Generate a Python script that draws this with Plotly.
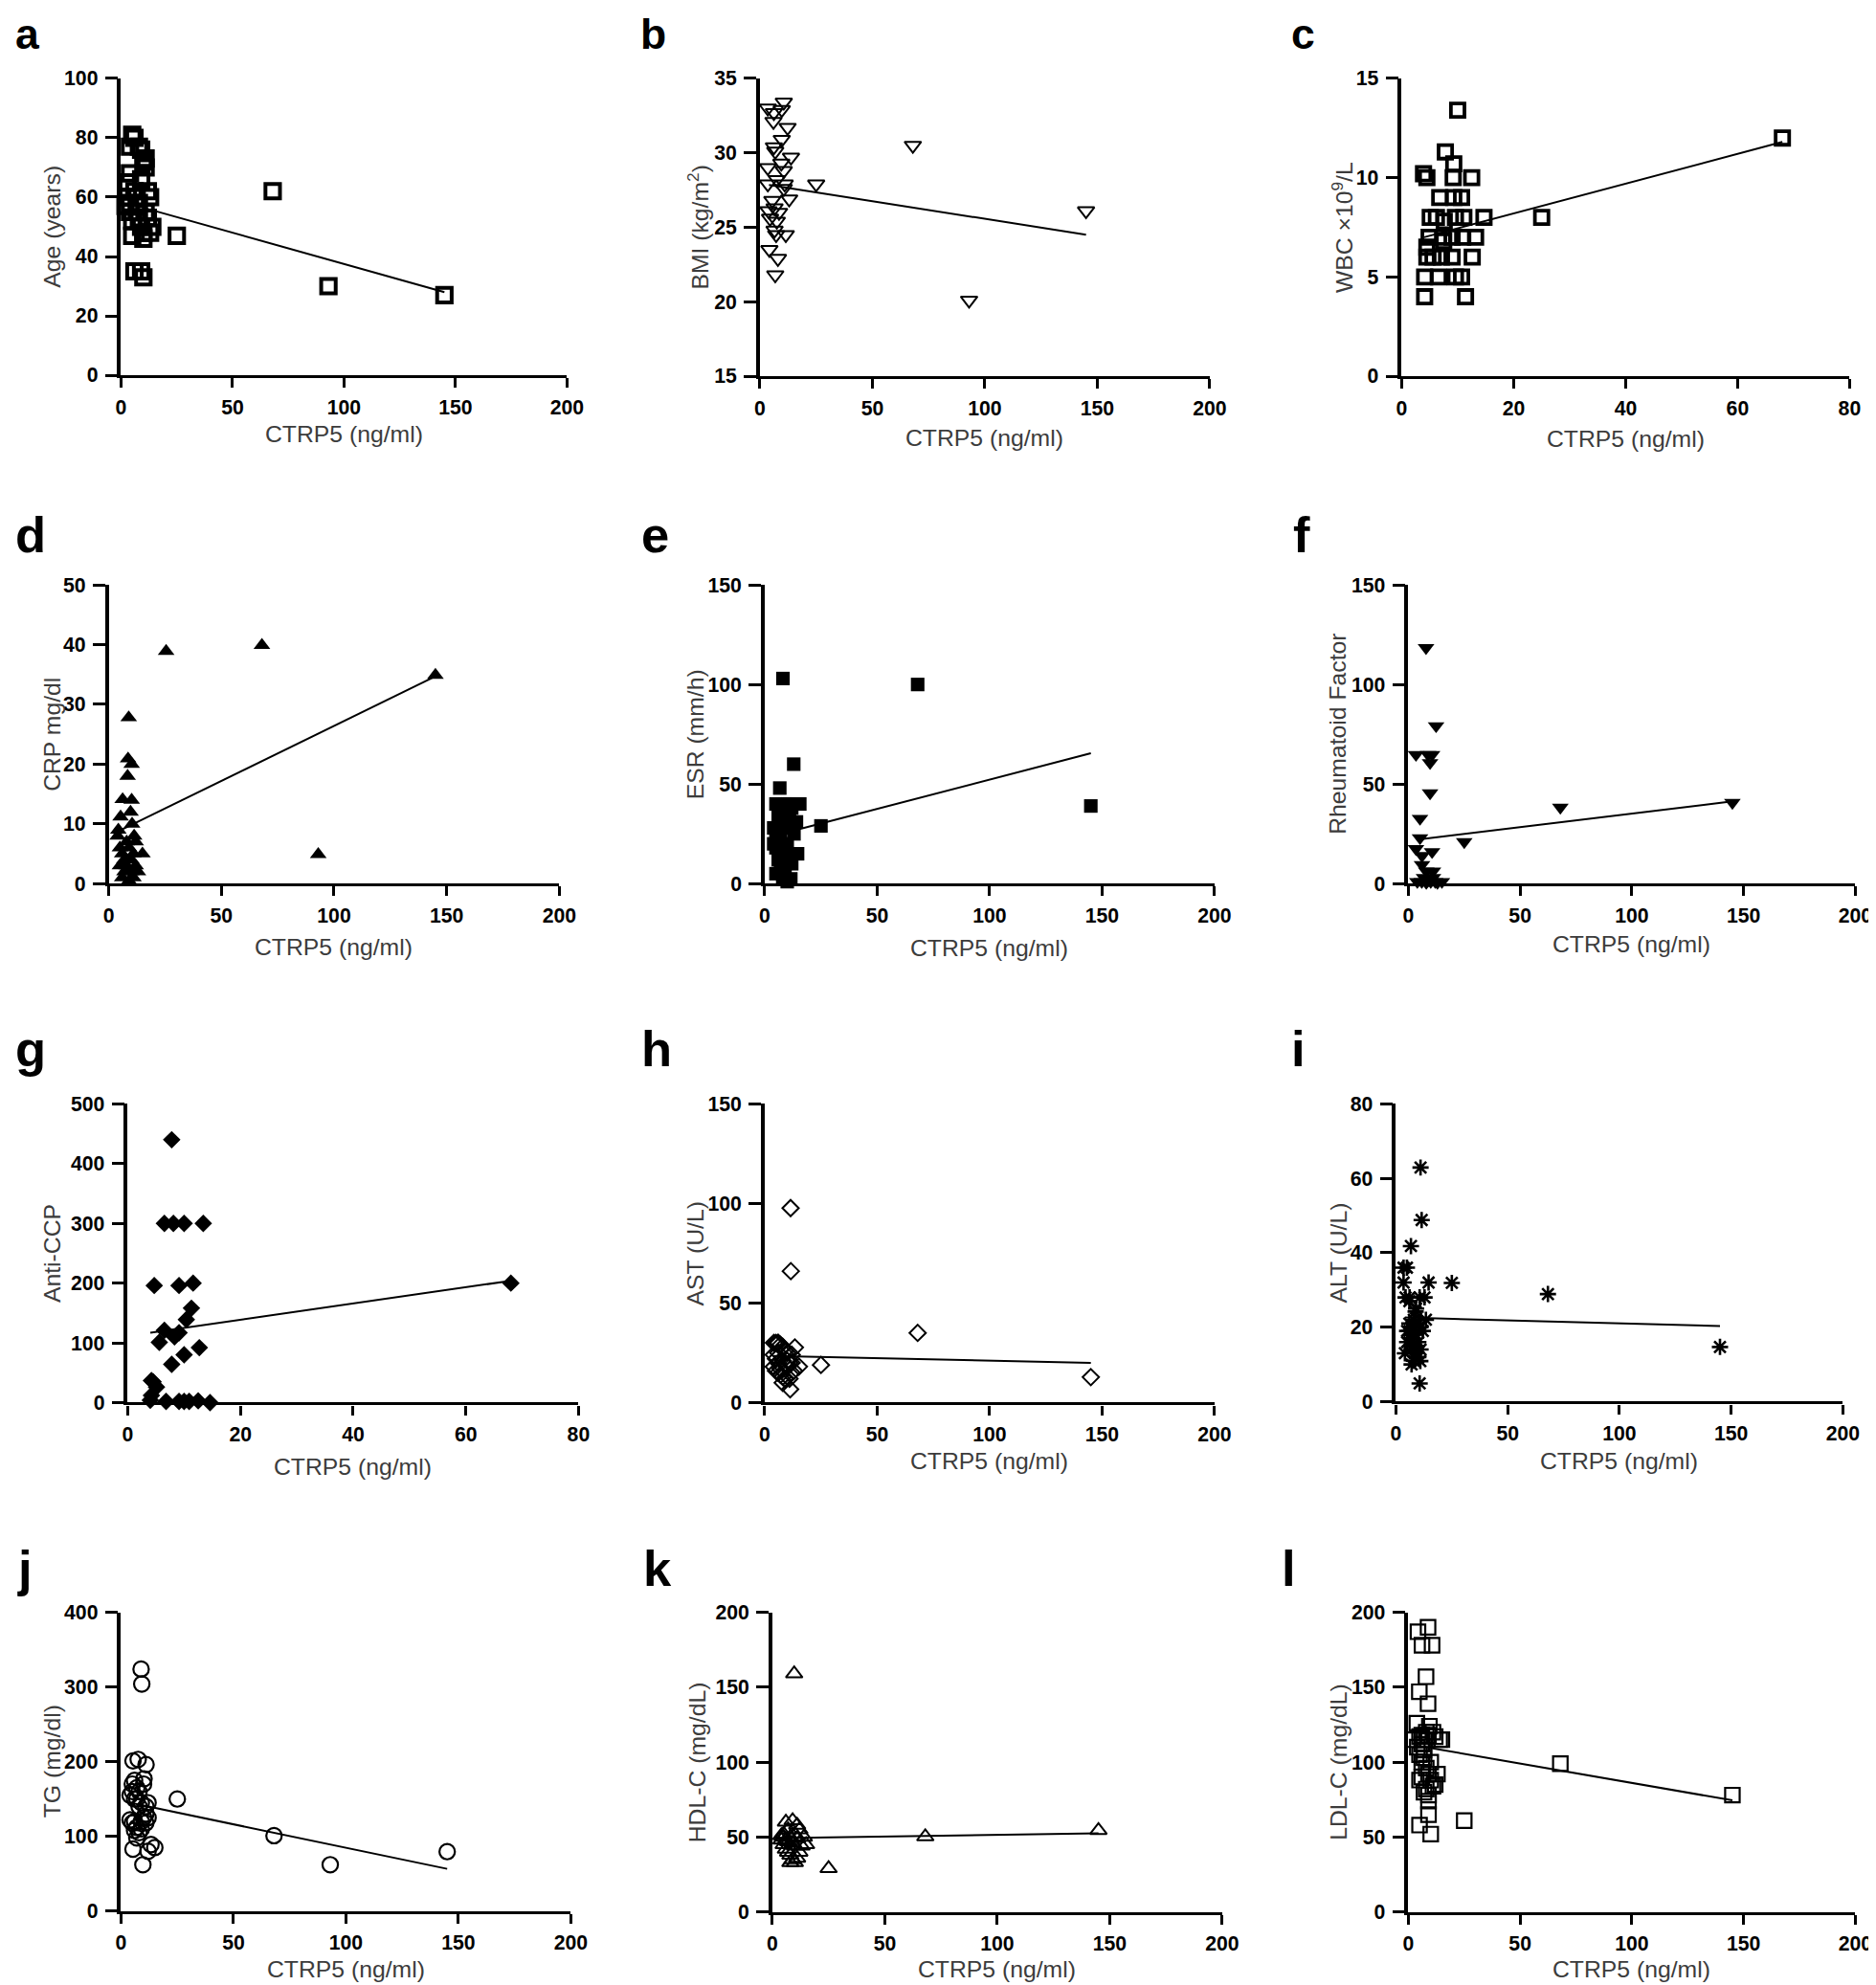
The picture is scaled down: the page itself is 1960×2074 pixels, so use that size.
import plotly.graph_objects as go

# ---------------- data ----------------
x_a = [5, 6, 4, 8, 9, 10, 11, 11, 9, 4, 3, 2, 4, 5, 5, 7, 8, 12, 13, 11, 12, 14, 13, 10, 10, 9, 6, 9, 10, 6, 7, 8, 3, 4, 25, 68, 93, 145]
y_a = [81, 80, 77, 77, 76, 72, 73, 70, 66, 68, 65, 57, 55, 52, 47, 60, 58, 62, 60, 55, 53, 50, 48, 46, 48, 50, 35, 35, 33, 62, 55, 52, 60, 58, 47, 62, 30, 27]
fit_a_x = [4, 145]
fit_a_y = [57.7, 28.0]

x_b = [3.5, 6.2, 6, 9.7, 10.6, 12.3, 9.7, 6.2, 6.8, 13.8, 9.5, 3.5, 10.6, 3.5, 7.5, 11, 10.6, 13, 5.5, 6.5, 3.8, 8.5, 4.5, 7.5, 6.5, 7.2, 11.5, 4.2, 8, 6.8, 25, 68, 93, 145]
y_b = [33.0, 32.7, 32.1, 32.9, 33.4, 31.7, 30.9, 30.4, 30.1, 29.7, 29.3, 29.0, 28.8, 27.9, 28.2, 27.9, 27.6, 26.9, 26.8, 26.3, 26.1, 26.0, 25.6, 25.4, 24.8, 24.5, 24.5, 23.5, 22.9, 21.8, 27.9, 30.5, 20.1, 26.1]
fit_b_x = [4, 145]
fit_b_y = [27.85, 24.5]

x_c = [10.0, 7.8, 3.9, 4.5, 9.3, 9.2, 12.5, 6.8, 9.3, 10.7, 5.1, 6.2, 9.6, 11.1, 14.7, 7.6, 4.9, 7.4, 9.0, 10.9, 13.2, 4.5, 7.5, 4.5, 5.6, 7.1, 9.0, 12.6, 4.1, 6.6, 9.6, 10.7, 4.1, 11.4, 25, 68]
y_c = [13.4, 11.3, 10.2, 10.0, 10.7, 10.0, 10.0, 9.0, 9.0, 9.0, 8, 8, 8, 8, 8, 7.8, 7, 7, 7, 7, 7, 6.5, 6.8, 6, 6, 6, 6, 6, 5, 5, 5, 5, 4, 4, 8, 12]
fit_c_x = [4, 68]
fit_c_y = [7.0, 11.8]

x_d = [8.9, 8.6, 10.2, 8.4, 6.2, 10.2, 5.3, 9.7, 10.4, 4.3, 11.3, 4.0, 15.0, 5, 6, 7, 8, 9, 10, 11, 12, 7, 6, 9, 8, 11, 12, 5, 13, 10, 25.5, 68, 93, 145]
y_d = [27.8, 20.9, 20.0, 18.0, 14.1, 14.0, 11.2, 12.0, 10.0, 9.0, 8, 8, 5, 6, 5, 4, 3, 6, 2, 1, 3, 2, 1, 0.5, 7, 5, 7, 3, 2, 4, 38.9, 39.9, 4.9, 34.9]
fit_d_x = [4, 145]
fit_d_y = [8.7, 34.7]

x_e = [8.1, 12.9, 6.7, 15.6, 14.1, 13, 14.6, 12, 11.6, 4, 5, 5, 6, 6, 7, 7, 8, 8, 9, 9, 10, 10, 11, 12, 6, 7, 5, 8, 9, 10, 11, 4, 12, 5, 7, 9, 11, 8, 25, 68, 145]
y_e = [103, 60, 48, 40, 31, 25, 15, 10, 2.4, 20, 18, 25, 30, 35, 38, 22, 15, 28, 32, 10, 40, 20, 35, 30, 12, 8, 5, 3, 5, 1, 15, 28, 38, 40, 40, 40, 40, 36, 29, 100, 39]
fit_e_x = [4, 145]
fit_e_y = [24.0, 65.5]

x_f = [7.9, 12.4, 3.4, 8.8, 10.6, 9.7, 9.7, 5.2, 5.2, 3.4, 6.1, 10.6, 6.1, 8, 11, 4, 6, 8, 9, 10, 12, 13, 15, 11, 7, 25, 68, 145]
y_f = [118.4, 79.2, 64.8, 64.8, 64.8, 60.7, 45.5, 32.7, 23, 17.5, 14, 16, 9.5, 6.3, 6.3, 1, 1, 0.5, 2, 1, 1, 0.5, 1, 3, 3, 21, 38.3, 40.7]
fit_f_x = [4, 145]
fit_f_y = [22.1, 41.3]

x_g = [7.8, 6.5, 8.1, 10.0, 13.4, 4.7, 9.1, 11.6, 11.3, 10.4, 6.5, 9.1, 8.3, 5.6, 12.7, 10.0, 7.8, 4.2, 4.5, 5.1, 4.2, 4.0, 6.8, 9.1, 10.0, 10.9, 12.5, 14.6, 68]
y_g = [440, 300, 300, 300, 300, 196, 196, 200, 158, 139, 121, 117, 110, 101, 92, 80, 64, 37, 35, 26, 12, 4, 2, 2, 2, 2, 3, 0, 200]
fit_g_x = [4, 68]
fit_g_y = [117, 204]

x_h = [11.5, 11.6, 11.3, 13.4, 15.2, 4.1, 5.9, 5, 6, 7, 8, 4, 9, 10, 12, 5, 6, 8, 9, 10, 4, 5, 6, 7, 8, 9, 11, 12, 13, 7, 10, 6, 8, 11, 12, 25, 68, 145]
y_h = [97.7, 66, 6.7, 27.7, 18.1, 30, 30, 30, 30, 29, 28, 24, 26, 25, 24, 22, 20, 21, 19, 18, 18, 16, 15, 14, 13, 12, 12, 15, 16, 17, 21, 25, 10, 20, 20, 18.9, 35, 12.8]
fit_h_x = [4, 145]
fit_h_y = [23.4, 20.0]

x_i = [11, 11.5, 6.7, 3.4, 4.9, 3.4, 14.6, 4.3, 6.1, 10.6, 12.8, 8.8, 13.4, 10.6, 10.9, 4, 5, 6, 6, 7, 7, 8, 8, 9, 9, 10, 10, 11, 11, 7, 8, 9, 6, 7, 12, 8, 10, 5, 25, 68, 145]
y_i = [62.9, 48.8, 41.8, 36, 36, 32, 32, 28, 28, 28, 28, 24.2, 22, 4.9, 10.9, 13, 16, 19, 21, 20, 17, 15, 22, 18, 14, 16, 12, 14, 20, 10, 11, 25, 27, 14, 19, 19, 21, 19, 31.9, 28.9, 14.7]
fit_i_x = [4, 145]
fit_i_y = [22.6, 20.3]

x_j = [8.9, 9.2, 5.3, 7.6, 11.1, 10.2, 5, 6, 7, 8, 10, 5, 4, 6, 9, 11, 7, 8, 12, 6, 5, 7, 9, 10, 11, 4, 6, 8, 7, 5.3, 9.7, 13.3, 15, 12, 9, 11, 12, 25, 68, 93, 145]
y_j = [324, 304, 201, 203, 196, 177, 170, 175, 165, 160, 170, 160, 155, 150, 145, 140, 150, 140, 125, 120, 118, 112, 120, 125, 118, 122, 108, 105, 98, 83, 62, 89, 85, 80, 110, 130, 145, 150, 101, 62, 79.5]
fit_j_x = [4, 145]
fit_j_y = [145, 56.5]

x_k = [9.7, 6, 9, 11, 12, 14, 15, 5, 7, 8, 10, 4, 5, 6, 7, 8, 9, 10, 11, 12, 13, 8, 6, 9, 7, 10, 11, 5, 4, 25, 68, 145]
y_k = [159, 60, 61, 58, 55, 50, 45, 52, 55, 50, 52, 48, 45, 42, 40, 38, 35, 33, 36, 40, 44, 33, 48, 46, 47, 44, 49, 50, 51, 29, 50.3, 54.5]
fit_k_x = [4, 145]
fit_k_y = [49.4, 52.5]

x_l = [8.8, 4.3, 6.1, 10.6, 7.9, 4.9, 8.8, 3.8, 9.4, 2, 5, 7, 9, 12, 14, 15, 5, 6, 7, 6, 5, 9, 10, 13, 12, 8, 7, 9, 11, 9, 9, 5, 10, 6, 7, 8, 4, 11, 10, 8, 6, 25, 68, 145]
y_l = [190, 187, 178, 178, 157, 147, 139, 126, 124, 115, 117, 115, 118, 117, 115, 115, 105, 100, 103, 90, 88, 92, 88, 92, 85, 82, 80, 78, 84, 74, 65, 58, 52, 112, 108, 96, 110, 120, 100, 120, 118, 61, 99, 78]
fit_l_x = [4, 145]
fit_l_y = [111, 74.5]

ticks_x200 = [0, 50, 100, 150, 200]
ticks_x80 = [0, 20, 40, 60, 80]
ticks_a = [0, 20, 40, 60, 80, 100]
ticks_b = [15, 20, 25, 30, 35]
ticks_c = [0, 5, 10, 15]
ticks_d = [0, 10, 20, 30, 40, 50]
ticks_e = [0, 50, 100, 150]
ticks_f = [0, 50, 100, 150]
ticks_g = [0, 100, 200, 300, 400, 500]
ticks_h = [0, 50, 100, 150]
ticks_i = [0, 20, 40, 60, 80]
ticks_j = [0, 100, 200, 300, 400]
ticks_k = [0, 50, 100, 150, 200]
ticks_l = [0, 50, 100, 150, 200]

x_title = "CTRP5 (ng/ml)"
y_titles = ["Age (years)", "BMI (kg/m<sup>2</sup>)", "WBC \u00d710<sup>9</sup>/L",
            "CRP mg/dl", "ESR (mm/h)", "Rheumatoid Factor",
            "Anti-CCP", "AST (U/L)", "ALT (U/L)",
            "TG (mg/dl)", "HDL-C (mg/dL)", "LDL-C (mg/dL)"]
letters = ["a", "b", "c", "d", "e", "f", "g", "h", "i", "j", "k", "l"]

# ---------------- layout / style ----------------
W, H = 1960, 2074
# mapping from target picture pixels to figure pixels (page offset / scale seen in the renders)
CX0, CSX = 12.25, 0.990
CY0, CSY = 20.1, 0.9885
K = 1.01  # size compensation for that scale
FONT = "Liberation Sans, Arial, Helvetica, sans-serif"


def fxp(xp):
    return (xp - CX0) / CSX


def fyp(yp):
    return (yp - CY0) / CSY


def px(xp):
    return fxp(xp) / W


def py(yp):
    return 1 - fyp(yp) / H


panels = [
    dict(x=x_a, y=y_a, fx=fit_a_x, fy=fit_a_y, xt=ticks_x200, yt=ticks_a, box=(125, 592, 82, 392),
         sym="square-open", size=15, lw=4, ytx=53, xty=453, let=(12, 52, 44)),
    dict(x=x_b, y=y_b, fx=fit_b_x, fy=fit_b_y, xt=ticks_x200, yt=ticks_b, box=(794, 1265, 82, 393),
         sym="triangle-down-open", size=15, lw=2, ytx=729, xty=457, let=(667, 52, 44)),
    dict(x=x_c, y=y_c, fx=fit_c_x, fy=fit_c_y, xt=ticks_x80, yt=ticks_c, box=(1466, 1935, 82, 393),
         sym="square-open", size=14, lw=3.8, ytx=1404, xty=458, let=(1348, 52, 44)),
    dict(x=x_d, y=y_d, fx=fit_d_x, fy=fit_d_y, xt=ticks_x200, yt=ticks_d, box=(112, 584, 611, 923),
         sym="triangle-up", size=15, lw=0, ytx=53, xty=989, let=(12, 578, 52)),
    dict(x=x_e, y=y_e, fx=fit_e_x, fy=fit_e_y, xt=ticks_x200, yt=ticks_e, box=(799, 1270, 611, 923),
         sym="square", size=14, lw=0, ytx=726, xty=990, let=(668, 578, 52)),
    dict(x=x_f, y=y_f, fx=fit_f_x, fy=fit_f_y, xt=ticks_x200, yt=ticks_f, box=(1473, 1941, 611, 923),
         sym="triangle-down", size=15, lw=0, ytx=1399, xty=986, let=(1350, 578, 52)),
    dict(x=x_g, y=y_g, fx=fit_g_x, fy=fit_g_y, xt=ticks_x80, yt=ticks_g, box=(132, 604, 1153, 1465),
         sym="diamond", size=14, lw=0, ytx=53, xty=1532, let=(12, 1115, 52)),
    dict(x=x_h, y=y_h, fx=fit_h_x, fy=fit_h_y, xt=ticks_x200, yt=ticks_h, box=(799, 1270, 1153, 1465),
         sym="diamond-open", size=13, lw=2, ytx=726, xty=1526, let=(668, 1115, 52)),
    dict(x=x_i, y=y_i, fx=fit_i_x, fy=fit_i_y, xt=ticks_x200, yt=ticks_i, box=(1460, 1928, 1153, 1464),
         sym="asterisk-open", size=14, lw=2.6, ytx=1400, xty=1526, let=(1348, 1115, 52)),
    dict(x=x_j, y=y_j, fx=fit_j_x, fy=fit_j_y, xt=ticks_x200, yt=ticks_j, box=(125, 596, 1684, 1996),
         sym="circle-open", size=16, lw=2.2, ytx=53, xty=2057, let=(14, 1657, 52)),
    dict(x=x_k, y=y_k, fx=fit_k_x, fy=fit_k_y, xt=ticks_x200, yt=ticks_k, box=(807, 1278, 1684, 1997),
         sym="triangle-up-open", size=15, lw=2, ytx=728, xty=2057, let=(670, 1657, 52)),
    dict(x=x_l, y=y_l, fx=fit_l_x, fy=fit_l_y, xt=ticks_x200, yt=ticks_l, box=(1473, 1941, 1684, 1997),
         sym="square-open", size=15, lw=2.2, ytx=1400, xty=2057, let=(1338, 1657, 52)),
]

TITLE_SIZE = 24.5 * K
TICK_SIZE = 21 * K

fig = go.Figure()
annotations = []
layout_axes = {}

for i, p in enumerate(panels, start=1):
    sfx = "" if i == 1 else str(i)
    l, r, t, b = p["box"]
    fig.add_trace(go.Scatter(
        x=p["x"], y=p["y"], mode="markers", xaxis="x" + sfx, yaxis="y" + sfx,
        marker=dict(symbol=p["sym"], size=p["size"] * K, color="black",
                    line=dict(color="black", width=p["lw"])),
        cliponaxis=False, showlegend=False, hoverinfo="skip"))
    fig.add_trace(go.Scatter(
        x=p["fx"], y=p["fy"], mode="lines", xaxis="x" + sfx, yaxis="y" + sfx,
        line=dict(color="black", width=2), showlegend=False, hoverinfo="skip"))
    common = dict(showline=True, linecolor="black", ticks="outside", tickcolor="black",
                  showgrid=False, zeroline=False, fixedrange=True,
                  tickfont=dict(family=FONT, size=TICK_SIZE, color="black", weight="bold"))
    layout_axes["xaxis" + sfx] = dict(common, domain=[px(l), px(r)], anchor="y" + sfx,
                                      linewidth=3.3, tickwidth=3.3, ticklen=10, ticklabelstandoff=2,
                                      range=[p["xt"][0], p["xt"][-1]], tickvals=p["xt"])
    layout_axes["yaxis" + sfx] = dict(common, domain=[py(b), py(t)], anchor="x" + sfx,
                                      linewidth=3.6, tickwidth=3.3, ticklen=13, ticklabelstandoff=3,
                                      range=[p["yt"][0], p["yt"][-1]], tickvals=p["yt"])
    annotations.append(dict(text=x_title, xref="paper", yref="paper",
                            x=px((l + r) / 2), y=py(p["xty"]), xanchor="center", yanchor="middle",
                            showarrow=False, font=dict(family=FONT, size=TITLE_SIZE, color="#3c3c3c")))
    annotations.append(dict(text=y_titles[i - 1], xref="paper", yref="paper", textangle=-90,
                            x=px(p["ytx"]), y=py((t + b) / 2), xanchor="center", yanchor="middle",
                            showarrow=False, font=dict(family=FONT, size=TITLE_SIZE, color="#3c3c3c")))
    lx, lb, ls = p["let"]
    ls = ls * K
    annotations.append(dict(text="<b>%s</b>" % letters[i - 1], xref="paper", yref="paper",
                            x=px(lx), y=1 - (fyp(lb) + 0.212 * ls + 1) / H,
                            xanchor="left", yanchor="bottom",
                            showarrow=False, font=dict(family=FONT, size=ls, color="black")))

fig.update_layout(width=W, height=H, margin=dict(l=0, r=0, t=0, b=0),
                  paper_bgcolor="white", plot_bgcolor="white",
                  annotations=annotations, **layout_axes)

fig.write_html("out.html")
